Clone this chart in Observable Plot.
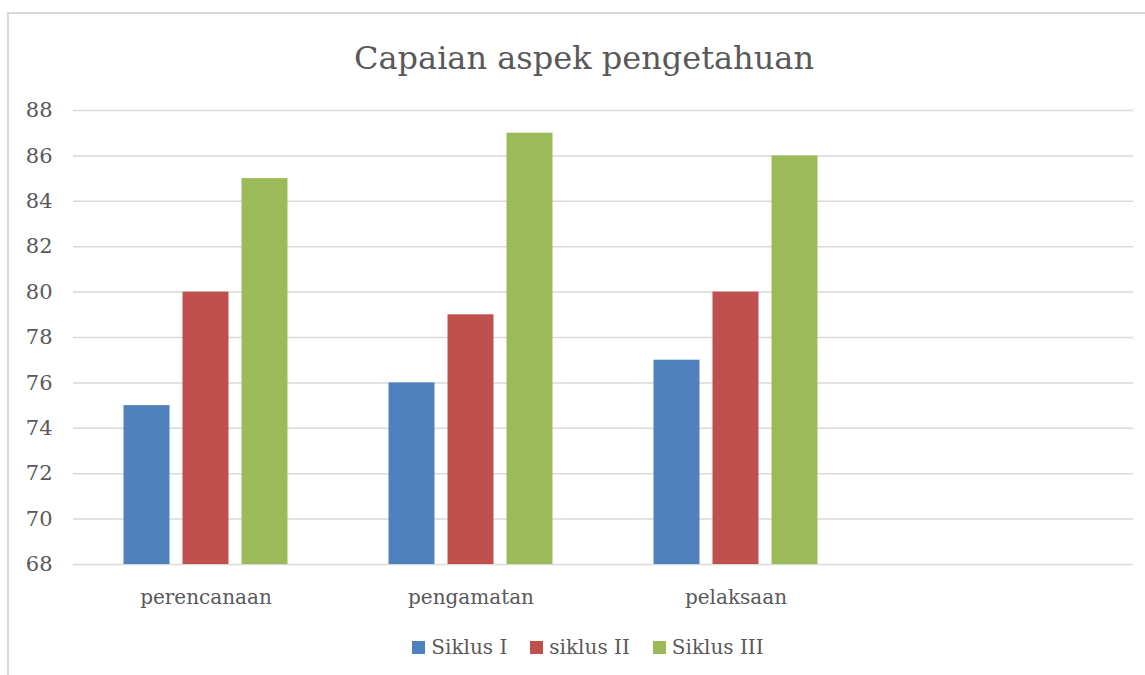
<!DOCTYPE html>
<html>
<head>
<meta charset="utf-8">
<script src="https://cdn.jsdelivr.net/npm/d3@7"></script>
<script src="https://cdn.jsdelivr.net/npm/@observablehq/plot@0.6"></script>
<style>
  body { margin: 0; background: #fff; font-family: "DejaVu Serif", serif; color: #595959; width: 1145px; height: 675px; overflow: hidden; position: relative; }
  #frame { position: absolute; left: 7px; top: 12px; width: 1160px; height: 700px; border-left: 2px solid #d9d9d9; border-top: 2px solid #d9d9d9; }
  #title { position: absolute; left: 0; top: 42px; width: 1168px; text-align: center; font-size: 32px; line-height: 1; }
  #chart { position: absolute; left: 0; top: 90px; }
  #legend { position: absolute; left: 0; top: 634px; width: 1176px; display: flex; justify-content: center; gap: 23px; font-size: 20px; line-height: 26px; }
  .item { display: flex; align-items: center; gap: 6px; }
  .sw { width: 13px; height: 13px; display: inline-block; }
</style>
</head>
<body>
<div id="frame"></div>
<div id="title">Capaian aspek pengetahuan</div>
<div id="chart"></div>
<div id="legend"></div>
<script>
const categories = ["perencanaan", "pengamatan", "pelaksaan", ""];
const series = ["Siklus I", "siklus II", "Siklus III"];
const siklus1 = [75, 76, 77];
const siklus2 = [80, 79, 80];
const siklus3 = [85, 87, 86];
const yTicks = [68, 70, 72, 74, 76, 78, 80, 82, 84, 86, 88];
const colors = ["#4f81bd", "#c0504d", "#9bbb59"];

const values = [siklus1, siklus2, siklus3];
const data = [];
categories.slice(0, 3).forEach((c, i) => {
  series.forEach((s, k) => data.push({category: c, series: s, value: values[k][i]}));
});

const offsets = [-59, 0, 59];
const inset = 109.5;

const chart = Plot.plot({
  width: 1145,
  height: 530,
  marginLeft: 73,
  marginRight: 12,
  marginTop: 20,
  marginBottom: 56,
  style: {fontFamily: "DejaVu Serif", fontSize: "20px", color: "#595959", background: "transparent"},
  x: {domain: categories, padding: 0, label: null},
  y: {domain: [68, 88], label: null},
  color: {domain: series, range: colors},
  marks: [
    Plot.ruleY(yTicks, {stroke: "#d9d9d9", strokeWidth: 1.5}),
    ...series.map((s, k) => Plot.barY(data.filter(d => d.series === s), {
      x: "category", y1: 68, y2: "value", fill: "series",
      dx: offsets[k], insetLeft: inset, insetRight: inset
    })),
    Plot.axisY({ticks: yTicks, tickSize: 0, tickPadding: 21, label: null, fontSize: 21}),
    Plot.axisX({tickSize: 0, tickPadding: 25, label: null, fontSize: 20})
  ]
});
document.getElementById("chart").appendChild(chart);

const legend = document.getElementById("legend");
series.forEach((s, k) => {
  const it = document.createElement("div");
  it.className = "item";
  const sw = document.createElement("span");
  sw.className = "sw";
  sw.style.background = colors[k];
  const t = document.createElement("span");
  t.textContent = s;
  it.appendChild(sw);
  it.appendChild(t);
  legend.appendChild(it);
});
</script>
</body>
</html>
